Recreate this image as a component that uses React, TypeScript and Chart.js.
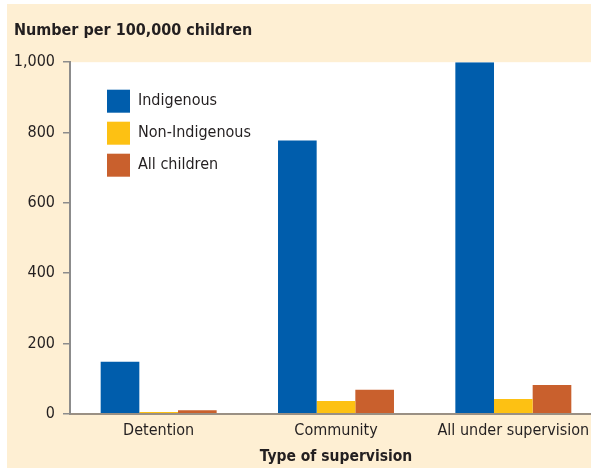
import React, { useEffect, useRef } from "react";
import { Chart, registerables } from "chart.js";

Chart.register(...registerables);

const categories = ["Detention", "Community", "All under supervision"];
const seriesNames = ["Indigenous", "Non-Indigenous", "All children"];
const indigenous = [148, 777, 1000];
const nonIndigenous = [5, 36, 42];
const allChildren = [10, 68, 82];
const yTicks = [0, 200, 400, 600, 800, 1000];
const yTitle = "Number per 100,000 children";
const xTitle = "Type of supervision";

const FONT = "'DejaVu Sans Condensed', 'Liberation Sans Narrow', sans-serif";
const TEXT = "#231f20";

export default function App() {
  const ref = useRef<HTMLCanvasElement>(null);
  useEffect(() => {
    if (!ref.current) return;
    const plotBg = {
      id: "plotBg",
      beforeDraw(chart: any) {
        const { ctx, chartArea } = chart;
        ctx.save();
        ctx.fillStyle = "#ffffff";
        ctx.fillRect(chartArea.left, chartArea.top, chartArea.right - chartArea.left, chartArea.bottom - chartArea.top);
        ctx.restore();
      },
    };
    const innerLegend = {
      id: "innerLegend",
      afterDraw(chart: any) {
        const { ctx, chartArea } = chart;
        ctx.save();
        ctx.font = `16px ${FONT}`;
        ctx.textBaseline = "middle";
        chart.data.datasets.forEach((ds: any, i: number) => {
          const x = chartArea.left + 37;
          const y = chartArea.top + 39 + i * 32;
          ctx.fillStyle = ds.backgroundColor;
          ctx.fillRect(x, y - 11.5, 23, 23);
          ctx.fillStyle = TEXT;
          ctx.fillText(ds.label, x + 31, y);
        });
        ctx.restore();
      },
    };
    const chart = new Chart(ref.current, {
      type: "bar",
      data: {
        labels: categories,
        datasets: [
          { label: seriesNames[0], data: indigenous, backgroundColor: "#005DAC" },
          { label: seriesNames[1], data: nonIndigenous, backgroundColor: "#FDC113" },
          { label: seriesNames[2], data: allChildren, backgroundColor: "#C9602D" },
        ],
      },
      options: {
        animation: false,
        responsive: false,
        layout: { padding: { left: 7, right: 1, top: 0, bottom: 1.5 } },
        datasets: { bar: { barPercentage: 1, categoryPercentage: 0.654 } },
        plugins: {
          legend: { display: false },
          tooltip: { enabled: false },
          title: {
            display: true,
            text: yTitle,
            align: "start",
            color: TEXT,
            font: { family: FONT, size: 16, weight: "bold" },
            padding: { top: 17, bottom: 22 },
          },
        },
        scales: {
          x: {
            grid: { display: false },
            border: { color: "#9a9084", width: 2 },
            ticks: { color: TEXT, font: { family: FONT, size: 16 }, padding: 0 },
            title: {
              display: true,
              text: xTitle,
              color: TEXT,
              font: { family: FONT, size: 15.5, weight: "bold" },
              padding: { top: 7, bottom: 0 },
            },
          },
          y: {
            min: 0,
            max: 1000,
            afterBuildTicks: (s: any) => {
              s.ticks = yTicks.map((v) => ({ value: v }));
            },
            afterFit: (s: any) => {
              s.width = 56;
            },
            grid: { display: true, drawOnChartArea: false, tickLength: 7, color: "#8c8c8c", lineWidth: 1.5 },
            border: { color: "#8c8c8c", width: 2 },
            ticks: {
              color: TEXT,
              font: { family: FONT, size: 16 },
              padding: 8,
              callback: (v: any) => Number(v).toLocaleString("en-US"),
            },
          },
        },
      },
      plugins: [plotBg, innerLegend],
    });
    return () => chart.destroy();
  }, []);
  return (
    <div style={{ position: "fixed", left: 0, top: 0, width: 591, height: 468, overflow: "hidden", background: "#ffffff" }}>
      <div style={{ position: "absolute", left: 7, top: 4, width: 600, height: 464, background: "#FEEFD3" }}>
        <canvas ref={ref} width={596} height={464} style={{ display: "block" }} />
      </div>
    </div>
  );
}
